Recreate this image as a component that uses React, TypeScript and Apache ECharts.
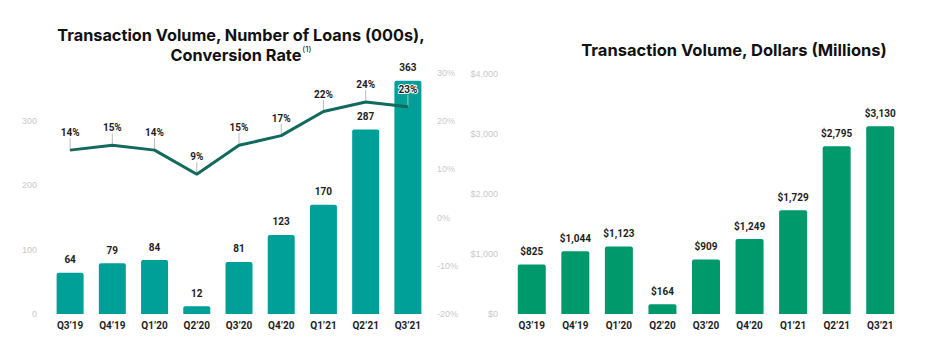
import React, { useEffect, useRef } from "react";
import * as echarts from "echarts";

const categories = ["Q3’19", "Q4’19", "Q1’20", "Q2’20", "Q3’20", "Q4’20", "Q1’21", "Q2’21", "Q3’21"];
const loans = [64, 79, 84, 12, 81, 123, 170, 287, 363];
const conversion = [14, 15, 14, 9, 15, 17, 22, 24, 23];
const dollars = [825, 1044, 1123, 164, 909, 1249, 1729, 2795, 3130];

const axisGray = "#c9c9c9";
const labelFont = "Roboto, 'Liberation Sans', Arial, sans-serif";
const titleFont = "Inter, 'Open Sans', sans-serif";

export default function App() {
  const ref = useRef<HTMLDivElement>(null);
  useEffect(() => {
    if (!ref.current) return;
    const chart = echarts.init(ref.current, undefined, { renderer: "svg" });
    const valueLabel = {
      show: true,
      position: "top",
      distance: 8,
      fontFamily: labelFont,
      fontWeight: "bold",
      fontSize: 10,
      color: "#1e1e1e",
      textBorderColor: "#fff",
      textBorderWidth: 2,
    };
    const catAxis = (gi: number) => ({
      type: "category",
      gridIndex: gi,
      data: categories,
      axisLine: { show: false },
      axisTick: { show: false },
      axisLabel: { fontFamily: labelFont, fontWeight: "bold", fontSize: 10, color: "#1e1e1e", margin: 6 },
    });
    const yLabel = { color: axisGray, fontSize: 9, fontFamily: "'Liberation Sans', Arial, sans-serif" };
    chart.setOption({
      animation: false,
      title: [
        {
          text: "Transaction Volume, Number of Loans (000s),\nConversion Rate{sup|(1)}",
          left: 236,
          top: 20,
          textAlign: "center",
          textStyle: {
            fontFamily: titleFont,
            fontWeight: "bold",
            fontSize: 16.3,
            lineHeight: 20,
            color: "#111",
            rich: {
              sup: { fontSize: 8, fontWeight: "normal", color: "#111", fontFamily: titleFont, verticalAlign: "top", padding: [0, 0, 8, 1] },
            },
          },
        },
        {
          text: "Transaction Volume, Dollars (Millions)",
          left: 729,
          top: 36,
          textAlign: "center",
          textStyle: { fontFamily: titleFont, fontWeight: "bold", fontSize: 16.5, color: "#111" },
        },
      ],
      grid: [
        { left: 49, right: 500, top: 73, bottom: 45 },
        { left: 510, right: 27, top: 74, bottom: 45 },
      ],
      xAxis: [catAxis(0), catAxis(1)],
      yAxis: [
        {
          type: "value",
          gridIndex: 0,
          min: 0,
          max: 375,
          interval: 100,
          splitLine: { show: false },
          axisLine: { show: false },
          axisTick: { show: false },
          axisLabel: { ...yLabel, margin: 12, showMaxLabel: false },
        },
        {
          type: "value",
          gridIndex: 0,
          position: "right",
          min: -20,
          max: 30,
          interval: 10,
          splitLine: { show: false },
          axisLine: { show: false },
          axisTick: { show: false },
          axisLabel: { ...yLabel, margin: 8, formatter: "{value}%" },
        },
        {
          type: "value",
          gridIndex: 1,
          min: 0,
          max: 4000,
          interval: 1000,
          splitLine: { show: false },
          axisLine: { show: false },
          axisTick: { show: false },
          axisLabel: { ...yLabel, margin: 12, formatter: (v: number) => "$" + v.toLocaleString("en-US") },
        },
      ],
      series: [
        {
          type: "bar",
          xAxisIndex: 0,
          yAxisIndex: 0,
          data: loans,
          barWidth: 27,
          itemStyle: { color: "#00a099", borderRadius: [2, 2, 0, 0] },
          label: valueLabel,
          z: 2,
        },
        {
          type: "custom",
          xAxisIndex: 0,
          yAxisIndex: 1,
          data: conversion.map((v, i) => [i, v]),
          encode: { x: 0, y: 1 },
          renderItem: (params: any, api: any) => {
            const p = api.coord([api.value(0), api.value(1)]);
            return {
              type: "line",
              shape: { x1: p[0], y1: p[1] - 12, x2: p[0], y2: p[1] },
              style: { stroke: "#bdbdbd", lineWidth: 1 },
            };
          },
          z: 3,
        },
        {
          type: "line",
          xAxisIndex: 0,
          yAxisIndex: 1,
          data: conversion,
          symbol: "circle",
          symbolSize: 1,
          showSymbol: true,
          itemStyle: { color: "#12695e" },
          lineStyle: { color: "#12695e", width: 3 },
          label: { ...valueLabel, distance: 12, formatter: "{c}%" },
          z: 4,
        },
        {
          type: "bar",
          xAxisIndex: 1,
          yAxisIndex: 2,
          data: dollars,
          barWidth: 28,
          itemStyle: { color: "#00996c", borderRadius: [2, 2, 0, 0] },
          label: { ...valueLabel, formatter: (p: any) => "$" + Number(p.value).toLocaleString("en-US") },
          z: 2,
        },
      ],
    });
    return () => chart.dispose();
  }, []);
  return <div ref={ref} style={{ position: "absolute", left: 0, top: 0, width: 929, height: 359, background: "#fff" }} />;
}
